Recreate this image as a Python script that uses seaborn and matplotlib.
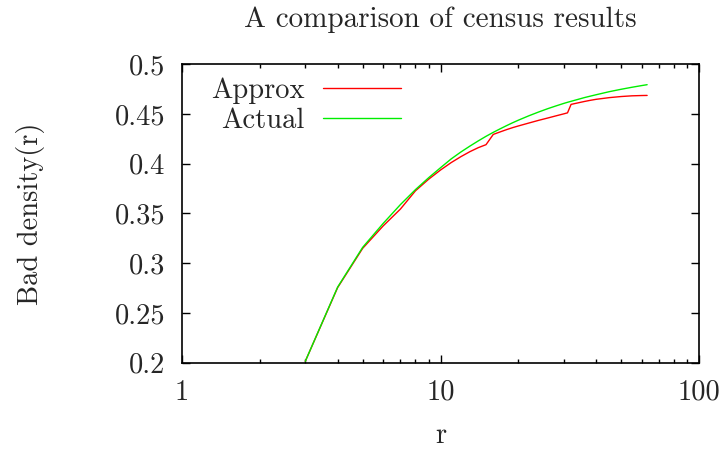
import numpy as np
import pandas as pd
import matplotlib
matplotlib.use("Agg")
import matplotlib.pyplot as plt
from matplotlib.ticker import FixedLocator, FixedFormatter, LogLocator, NullFormatter
import seaborn as sns

# ---- data ----
r_vals = [3, 4, 5, 6, 7, 8, 9, 10, 11, 12, 13, 14, 15, 16, 17, 18, 19, 20,
          22, 24, 26, 28, 30, 31, 32, 34, 36, 38, 40, 45, 50, 55, 60, 63]
approx = [0.2015, 0.2755, 0.3150, 0.3375, 0.3545, 0.3728, 0.3845, 0.3937,
          0.4012, 0.4072, 0.4122, 0.4162, 0.4192, 0.4295, 0.4320, 0.4343,
          0.4363, 0.4380, 0.4410, 0.4437, 0.4460, 0.4482, 0.4502, 0.4512,
          0.4597, 0.4612, 0.4626, 0.4638, 0.4648, 0.4665, 0.4676, 0.4683,
          0.4686, 0.4687]
actual = [0.2015, 0.2760, 0.3160, 0.3400, 0.3590, 0.3740, 0.3860, 0.3960,
          0.4049, 0.4119, 0.4178, 0.4230, 0.4276, 0.4316, 0.4351, 0.4383,
          0.4412, 0.4438, 0.4483, 0.4521, 0.4554, 0.4582, 0.4607, 0.4618,
          0.4628, 0.4647, 0.4665, 0.4680, 0.4694, 0.4725, 0.4749, 0.4769,
          0.4786, 0.4795]
series_names = ["Approx", "Actual"]
series_colors = ["#ff0000", "#00ee00"]
y_ticks = [0.2, 0.25, 0.3, 0.35, 0.4, 0.45, 0.5]
y_tick_labels = ["0.2", "0.25", "0.3", "0.35", "0.4", "0.45", "0.5"]
x_ticks = [1, 10, 100]
x_tick_labels = ["1", "10", "100"]
title = "A comparison of census results"
x_label = "r"
y_label = "Bad density(r)"

df = pd.DataFrame({
    "r": r_vals * 2,
    "value": approx + actual,
    "series": [series_names[0]] * len(r_vals) + [series_names[1]] * len(r_vals),
})

sns.set_theme(style="ticks")
plt.rcParams["font.family"] = ["cmr10", "DejaVu Serif"]
plt.rcParams["mathtext.fontset"] = "cm"
plt.rcParams["axes.formatter.use_mathtext"] = True

FS = 20.5
fig = plt.figure(figsize=(7.23, 4.61), dpi=100)
W, H = 723, 461
left, right, top, bottom = 182, 699, 64.3, 362.7
ax = fig.add_axes([left / W, 1 - bottom / H, (right - left) / W, (bottom - top) / H])

sns.lineplot(data=df, x="r", y="value", hue="series", palette=series_colors,
             hue_order=series_names, ax=ax, linewidth=1.0, legend=False)

ax.set_xscale("log")
ax.set_xlim(1, 100)
ax.set_ylim(0.2, 0.5)

ax.xaxis.set_major_locator(FixedLocator(x_ticks))
ax.xaxis.set_major_formatter(FixedFormatter(x_tick_labels))
ax.xaxis.set_minor_locator(LogLocator(base=10, subs=np.arange(2, 10)))
ax.xaxis.set_minor_formatter(NullFormatter())
ax.yaxis.set_major_locator(FixedLocator(y_ticks))
ax.yaxis.set_major_formatter(FixedFormatter(y_tick_labels))

ax.tick_params(which="both", direction="in", top=True, right=True,
               color="black", width=1.0)
ax.tick_params(which="major", length=6, labelsize=FS, pad=12)
ax.tick_params(which="minor", length=3)
for s in ax.spines.values():
    s.set_visible(True)
    s.set_color("black")
    s.set_linewidth(1.2)

ax.set_title(title, fontsize=21, pad=27)
ax.set_xlabel(x_label, fontsize=FS, labelpad=12)
ax.set_ylabel(y_label, fontsize=FS, labelpad=50)

handles = [plt.Line2D([], [], color=c, lw=1.0) for c in series_colors]
leg = ax.legend(handles, series_names, loc="upper left",
                bbox_to_anchor=(211 / W, 1 - 77 / H), bbox_transform=fig.transFigure,
                frameon=False, markerfirst=False, fontsize=FS, borderpad=0,
                borderaxespad=0, handlelength=2.74, handletextpad=0.66,
                labelspacing=0.14)

fig.savefig("out.png", dpi=100, facecolor="white")
